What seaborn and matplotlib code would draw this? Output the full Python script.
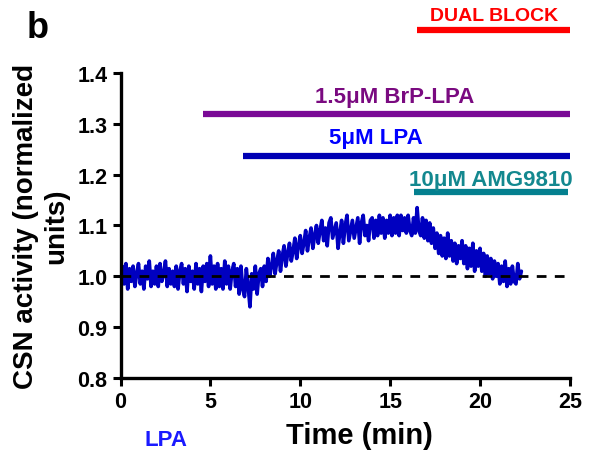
import numpy as np
import pandas as pd
import seaborn as sns
import matplotlib.pyplot as plt

# CSN activity trace, one sample every 0.1 min
activity = [
    1.00, 1.02, 0.985, 1.025, 0.975, 1.015, 0.99, 1.02, 0.98, 1.005,
    1.025, 0.985, 1.01, 0.975, 1.02, 0.995, 1.03, 0.98, 1.01, 0.985,
    1.02, 0.98, 1.025, 0.99, 1.005, 1.03, 0.98, 1.015, 0.985, 1.01,
    0.98, 1.02, 0.975, 1.01, 1.025, 0.985, 1.015, 0.97, 1.02, 0.99,
    1.01, 0.975, 1.025, 0.985, 1.015, 0.97, 1.02, 0.99, 1.025, 0.98,
    1.04, 0.985, 1.02, 0.975, 1.025, 0.98, 1.015, 0.975, 1.03, 0.985,
    1.02, 0.975, 1.01, 1.025, 0.98, 1.015, 0.965, 1.02, 0.975, 0.96,
    1.015, 0.98, 0.94, 1.005, 0.975, 1.02, 0.965, 1.005, 1.015, 0.98,
    1.02, 0.99, 1.035, 1.00, 1.02, 1.045, 1.005, 1.03, 1.05, 1.01,
    1.04, 1.06, 1.02, 1.045, 1.065, 1.03, 1.05, 1.075, 1.035, 1.06,
    1.08, 1.045, 1.065, 1.09, 1.05, 1.075, 1.095, 1.055, 1.08, 1.10,
    1.065, 1.09, 1.11, 1.07, 1.095, 1.06, 1.105, 1.115, 1.075, 1.09,
    1.105, 1.055, 1.085, 1.11, 1.065, 1.10, 1.12, 1.07, 1.09, 1.11,
    1.075, 1.095, 1.115, 1.065, 1.105, 1.12, 1.08, 1.10, 1.07, 1.11,
    1.115, 1.075, 1.11, 1.08, 1.12, 1.085, 1.115, 1.075, 1.11, 1.085,
    1.12, 1.08, 1.115, 1.085, 1.12, 1.08, 1.12, 1.09, 1.115, 1.085,
    1.12, 1.09, 1.08, 1.115, 1.085, 1.135, 1.09, 1.08, 1.115, 1.075,
    1.11, 1.07, 1.105, 1.065, 1.095, 1.055, 1.085, 1.045, 1.08, 1.04,
    1.075, 1.035, 1.085, 1.04, 1.07, 1.03, 1.065, 1.025, 1.06, 1.035,
    1.07, 1.025, 1.06, 1.015, 1.055, 1.02, 1.065, 1.01, 1.05, 1.02,
    1.055, 1.01, 1.045, 1.00, 1.04, 1.005, 1.035, 0.995, 1.03, 1.00,
    1.025, 0.985, 1.02, 0.99, 1.03, 0.98, 1.015, 0.985, 1.02, 0.99,
    0.985, 1.025, 0.995, 1.01,
]
time_min = np.arange(len(activity)) / 10.0

# treatment bars: label, start, end, level
bar_labels = ["DUAL BLOCK", "1.5\u03bcM BrP-LPA", "5\u03bcM LPA", "10\u03bcM AMG9810"]
bar_start = [16.5, 4.6, 6.8, 16.3]
bar_end = [25.0, 25.0, 25.0, 24.9]
bar_level = [1.485, 1.319, 1.237, 1.166]
bar_colors = ["#ff0000", "#7a0a96", "#0000b4", "#04808f"]
text_colors = ["#ff0000", "#7a0a80", "#0000ff", "#13888f"]
text_x = [20.8, 15.25, 14.2, 20.6]
text_y = [1.512, 1.353, 1.272, 1.191]
text_size = [14, 16, 16, 16]

df = pd.DataFrame({"Time (min)": time_min, "activity": activity})

sns.set_style("ticks")
plt.rcParams["font.family"] = ["Liberation Sans", "DejaVu Sans"]
plt.rcParams.update({
    "font.weight": "bold",
    "text.color": "black",
    "axes.labelcolor": "black",
    "axes.edgecolor": "black",
    "xtick.color": "black",
    "ytick.color": "black",
})

fig = plt.figure(figsize=(5.89, 4.52), dpi=100)
ax = fig.add_axes([0.2046, 0.1615, 0.763, 0.675])

sns.lineplot(data=df, x="Time (min)", y="activity", color="#0000c0",
             linewidth=2.6, ax=ax)
ax.plot([0, 24.7], [1.0, 1.0], color="black", linestyle=(0, (3.5, 3)),
        linewidth=2)

for lab, s, e, lv, bc, tc, tx, ty, ts in zip(bar_labels, bar_start, bar_end,
                                             bar_level, bar_colors, text_colors,
                                             text_x, text_y, text_size):
    ax.hlines(lv, s, e, color=bc, linewidth=4.5, clip_on=False)
    ax.text(tx, ty, lab, color=tc, fontsize=ts, fontweight="bold",
            ha="center", va="center", clip_on=False)

ax.set_xlim(0, 25)
ax.set_ylim(0.8, 1.4)
ax.set_xticks([0, 5, 10, 15, 20, 25])
ax.set_yticks([0.8, 0.9, 1.0, 1.1, 1.2, 1.3, 1.4])
ax.set_yticklabels(["0.8", "0.9", "1.0", "1.1", "1.2", "1.3", "1.4"])
ax.tick_params(width=2.2, length=6, labelsize=15.5)
for lbl in ax.get_xticklabels() + ax.get_yticklabels():
    lbl.set_fontweight("bold")
for side in ["left", "bottom"]:
    ax.spines[side].set_linewidth(2.4)
sns.despine(ax=ax)

ax.set_xlabel("Time (min)", fontsize=21, fontweight="bold")
ax.xaxis.set_label_coords(0.531, -0.14)
ax.set_ylabel("CSN activity (normalized\nunits)", fontsize=20,
              fontweight="bold", labelpad=6)

fig.text(0.064, 0.938, "b", fontsize=26, fontweight="bold", ha="center",
         va="center")
fig.text(0.282, 0.025, "LPA", fontsize=16, fontweight="bold",
         color="#1a1aff", ha="center", va="center")

fig.savefig("out.png", dpi=100)
